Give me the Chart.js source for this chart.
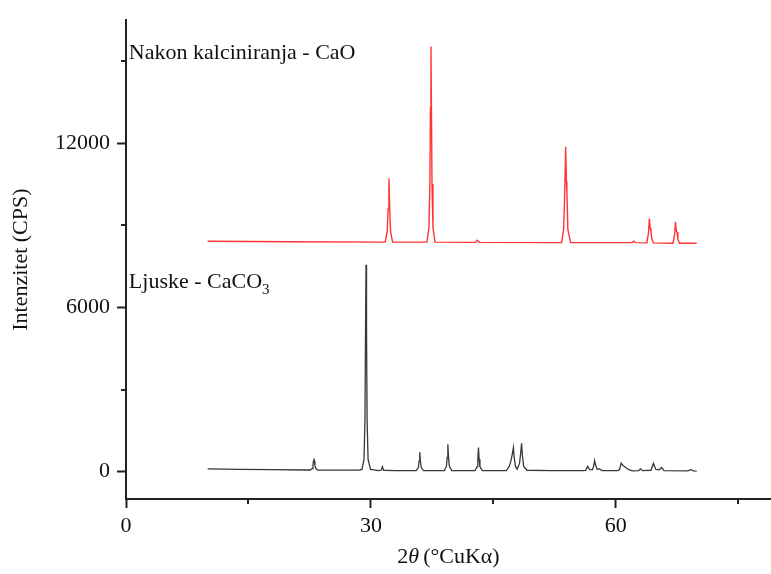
<!DOCTYPE html>
<html>
<head>
<meta charset="utf-8">
<script src="https://cdn.jsdelivr.net/npm/chart.js@4/dist/chart.umd.min.js"></script>
<style>
  html, body { margin: 0; padding: 0; background: #fff; }
  #wrap { width: 771px; height: 574px; }
</style>
</head>
<body>
<div id="wrap"><canvas id="xrd" width="771" height="574"></canvas></div>
<script>
// Ljuske - CaCO3 (crna krivulja)
const caco3X = [10, 14, 18, 22, 22.55, 22.8, 22.9, 22.96, 23.02, 23.08, 23.14, 23.25, 23.5, 26, 28.6,
  28.9, 29.15, 29.27, 29.34, 29.4, 29.46, 29.53, 29.65, 29.95, 31.0, 31.25, 31.4, 31.55, 33,
  35.55, 35.8, 35.9, 35.98, 36.06, 36.16, 36.45, 38,
  39.0, 39.25, 39.34, 39.42, 39.5, 39.6, 39.9, 42,
  42.75, 43.0, 43.09, 43.17, 43.25, 43.35, 43.65,
  46.6, 46.95, 47.1, 47.3, 47.45, 47.55, 47.7, 47.9, 48.2, 48.35, 48.45, 48.55, 48.7, 49.1,
  52, 56, 56.3, 56.55, 56.8, 57.15, 57.3, 57.4, 57.5, 57.7, 58.0, 58.3,
  60.2, 60.45, 60.65, 60.85, 61.2, 61.6, 62.0, 62.8, 63.0, 63.3,
  64.3, 64.6, 64.9, 65.3, 65.6, 65.9, 68.8, 69.2, 69.5, 69.9];
const caco3Y = [100, 85, 70, 60, 60, 110, 220, 380, 480, 380, 220, 110, 60, 55, 60,
  80, 450, 1900, 5200, 7560, 5200, 1900, 450, 80, 40, 50, 180, 50, 35,
  35, 150, 380, 712, 380, 150, 40, 40,
  40, 200, 520, 1000, 520, 200, 40, 40,
  40, 180, 450, 880, 450, 180, 40,
  40, 200, 340, 620, 880, 500, 200, 90, 300, 700, 1040, 600, 200, 50,
  40, 40, 45, 190, 70, 70, 250, 400, 250, 90, 100, 40,
  40, 80, 310, 230, 150, 70, 30, 40, 100, 35,
  50, 300, 80, 70, 150, 40, 30, 70, 30, 20];

// Nakon kalciniranja - CaO (crvena krivulja)
const caoX = [10, 20, 31.75, 32.0, 32.1, 32.2, 32.3, 32.4, 32.65,
  36.85, 37.1, 37.22, 37.29, 37.35, 37.41, 37.48, 37.6, 37.85,
  42.8, 43.0, 43.3, 53.35, 53.6, 53.72, 53.85, 53.94, 54.0, 54.12, 54.45,
  62.0, 62.2, 62.4, 63.8, 64.0, 64.1, 64.2, 64.3, 64.4, 64.6,
  67.0, 67.2, 67.3, 67.4, 67.5, 67.6, 67.8, 69.9];
const caoY = [8420, 8400, 8390, 8800, 9600, 10720, 9600, 8800, 8390,
  8390, 8900, 10500, 13300, 15540, 13300, 10500, 8900, 8390,
  8380, 8460, 8380, 8370, 8850, 10000, 11870, 10600, 10250, 8850, 8370,
  8370, 8420, 8370, 8360, 8740, 9250, 8900, 8780, 8520, 8360,
  8350, 8680, 9130, 8800, 8750, 8480, 8350, 8350];

const xTicks = [0, 30, 60];
const xMinor = [15, 45, 75];
const yTicks = [0, 6000, 12000];
const yMinor = [3000, 9000, 15000];

const serif = '"Liberation Serif", "DejaVu Serif", serif';
const axisColor = '#222';

// Sporedne crtice, natpisi serija i naslov x osi (kurzivna theta)
const extras = {
  id: 'extras',
  afterDraw(chart) {
    const { ctx, scales: { x, y }, chartArea } = chart;
    ctx.save();
    ctx.strokeStyle = axisColor;
    ctx.lineWidth = 2;
    ctx.beginPath();
    yMinor.forEach(v => {
      const py = Math.round(y.getPixelForValue(v));
      ctx.moveTo(chartArea.left - 5, py);
      ctx.lineTo(chartArea.left, py);
    });
    xMinor.forEach(v => {
      const px = Math.round(x.getPixelForValue(v));
      ctx.moveTo(px, chartArea.bottom);
      ctx.lineTo(px, chartArea.bottom + 5);
    });
    ctx.stroke();

    ctx.fillStyle = '#111';
    ctx.textBaseline = 'alphabetic';
    ctx.textAlign = 'left';
    ctx.font = '22px ' + serif;
    const lx = x.getPixelForValue(0.35);
    ctx.fillText('Nakon kalciniranja - CaO', lx, y.getPixelForValue(15100));
    const ly = y.getPixelForValue(6720);
    const main = 'Ljuske - CaCO';
    ctx.fillText(main, lx, ly);
    const w = ctx.measureText(main).width;
    ctx.font = '15px ' + serif;
    ctx.fillText('3', lx + w, ly + 6);

    // naslov x osi: 2θ(°CuKα)
    const parts = [['2', '22px ' + serif], ['\u03B8', 'italic 22px ' + serif], ['(°CuKα)', '22px ' + serif]];
    let total = 0;
    parts.forEach(p => { ctx.font = p[1]; total += ctx.measureText(p[0]).width; });
    total += 4;
    let cx = (chartArea.left + chartArea.right) / 2 - total / 2;
    parts.forEach((p, i) => {
      ctx.font = p[1];
      ctx.fillText(p[0], cx, 563);
      cx += ctx.measureText(p[0]).width + (i === 1 ? 4 : 0);
    });
    ctx.restore();
  }
};

const tickFont = { family: serif, size: 22 };

new Chart(document.getElementById('xrd'), {
  type: 'line',
  data: {
    datasets: [
      {
        label: 'Ljuske - CaCO3',
        data: caco3X.map((v, i) => ({ x: v, y: caco3Y[i] })),
        borderColor: '#383838',
        borderWidth: 1.3,
        pointRadius: 0,
        tension: 0
      },
      {
        label: 'Nakon kalciniranja - CaO',
        data: caoX.map((v, i) => ({ x: v, y: caoY[i] })),
        borderColor: 'rgba(255, 30, 30, 0.9)',
        borderWidth: 1.4,
        pointRadius: 0,
        tension: 0
      }
    ]
  },
  options: {
    responsive: false,
    devicePixelRatio: 1,
    animation: false,
    layout: { padding: { top: 16, right: 0, left: 0, bottom: 0 } },
    plugins: { legend: { display: false }, tooltip: { enabled: false } },
    scales: {
      x: {
        type: 'linear',
        min: 0,
        max: 79,
        border: { display: true, color: axisColor, width: 2 },
        grid: { drawOnChartArea: false, drawTicks: true, tickLength: 9, tickWidth: 2, tickColor: axisColor },
        ticks: { font: tickFont, color: '#111', padding: 5, maxRotation: 0, autoSkip: false, callback: v => String(v) },
        afterBuildTicks: s => { s.ticks = xTicks.map(v => ({ value: v })); },
        afterFit: s => { s.height = 75; }
      },
      y: {
        type: 'linear',
        min: -1000,
        max: 16500,
        border: { display: true, color: axisColor, width: 2 },
        grid: { drawOnChartArea: false, drawTicks: true, tickLength: 9, tickWidth: 2, tickColor: axisColor },
        ticks: { font: tickFont, color: '#111', padding: 7, autoSkip: false, callback: v => String(v) },
        afterBuildTicks: s => { s.ticks = yTicks.map(v => ({ value: v })); },
        afterFit: s => { s.width = 126; },
        title: { display: true, text: 'Intenzitet (CPS)', font: tickFont, color: '#111', padding: { top: 8, bottom: 0 } }
      }
    }
  },
  plugins: [extras]
});
</script>
</body>
</html>
